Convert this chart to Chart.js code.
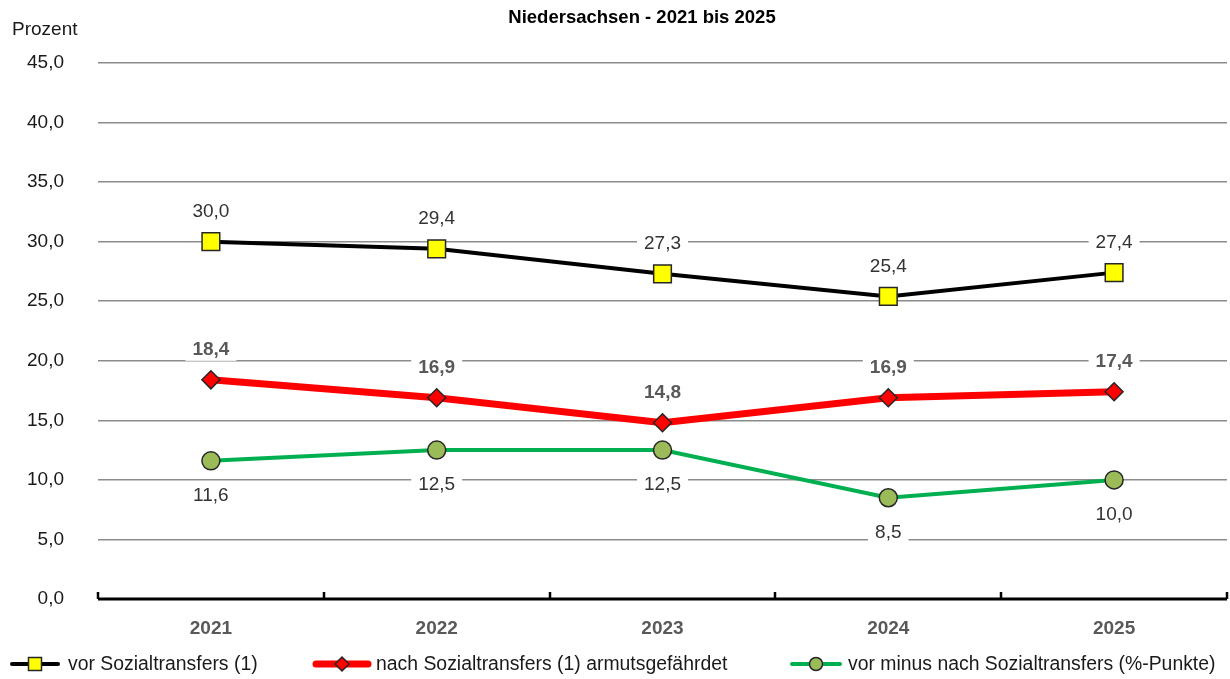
<!DOCTYPE html>
<html><head><meta charset="utf-8">
<script src="https://cdn.jsdelivr.net/npm/chart.js@4"></script>
<style>html,body{margin:0;padding:0;background:#fff}#wrap{width:1230px;height:679px;position:relative}</style>
</head><body><div id="wrap"><canvas id="c" width="1230" height="679"></canvas></div>
<script>
const categories = ['2021','2022','2023','2024','2025'];
const vorValues = [30.0, 29.4, 27.3, 25.4, 27.4];
const nachValues = [18.4, 16.9, 14.8, 16.9, 17.4];
const diffValues = [11.6, 12.5, 12.5, 8.5, 10.0];
const seriesNames = ['vor Sozialtransfers (1)', 'nach Sozialtransfers (1) armutsgefährdet', 'vor minus nach Sozialtransfers (%-Punkte)'];
const yTicks = [0,5,10,15,20,25,30,35,40,45];
const titleText = 'Niedersachsen - 2021 bis 2025';
const unitText = 'Prozent';

const FONT = '"Liberation Sans", Arial, sans-serif';
const FS = 19;
const fmt = v => v.toFixed(1).replace('.', ',');

// markers may overflow the plot area, as in the original; do not shrink the layout for them
class PlainLine extends Chart.LineController {
  getMaxOverflow() { return 0; }
}
PlainLine.id = 'plainLine';
PlainLine.defaults = Chart.LineController.defaults;
PlainLine.overrides = Chart.LineController.overrides;
Chart.register(PlainLine);

const labelCfg = [
  {dy: -31, bold: false, color: '#333333'},
  {dy: -31, bold: true, color: '#595959'},
  {dy: 34, bold: false, color: '#333333'}
];

const extras = {
  id: 'extras',
  afterDatasetsDraw(chart) {
    const ctx = chart.ctx;
    const ca = chart.chartArea;
    ctx.save();
    // x axis line + upward ticks
    ctx.strokeStyle = '#000';
    ctx.lineWidth = 3;
    ctx.beginPath();
    ctx.moveTo(ca.left, ca.bottom); ctx.lineTo(ca.right, ca.bottom);
    ctx.stroke();
    ctx.lineWidth = 2.5;
    const step = (ca.right - ca.left) / categories.length;
    for (let i = 0; i <= categories.length; i++) {
      const x = Math.round(ca.left + i * step);
      ctx.beginPath(); ctx.moveTo(x, ca.bottom); ctx.lineTo(x, ca.bottom - 7); ctx.stroke();
    }
    // data labels
    chart.data.datasets.forEach((ds, di) => {
      const meta = chart.getDatasetMeta(di);
      const cfg = labelCfg[di];
      ctx.font = (cfg.bold ? 'bold ' : '') + FS + 'px ' + FONT;
      ctx.textAlign = 'center'; ctx.textBaseline = 'middle';
      meta.data.forEach((pt, i) => {
        const txt = fmt(ds.data[i]);
        const w = ctx.measureText(txt).width + 14;
        const x = pt.x, y = pt.y + cfg.dy;
        ctx.fillStyle = '#fff';
        ctx.fillRect(x - w/2, y - 12, w, 24);
        ctx.fillStyle = cfg.color;
        ctx.fillText(txt, x, y + 1);
      });
    });
    ctx.restore();
  },
  afterDraw(chart) {
    const ctx = chart.ctx;
    ctx.save();
    // title
    ctx.fillStyle = '#000';
    ctx.font = 'bold 18.5px ' + FONT;
    ctx.textAlign = 'center'; ctx.textBaseline = 'middle';
    ctx.fillText(titleText, 642, 18);
    // unit
    ctx.font = FS + 'px ' + FONT;
    ctx.textAlign = 'left';
    ctx.fillStyle = '#1a1a1a';
    ctx.fillText(unitText, 12, 30);
    // legend
    const items = [
      {x1: 12, x2: 58, tx: 68},
      {x1: 316, x2: 368, tx: 376},
      {x1: 792, x2: 840, tx: 848}
    ];
    const ly = 664;
    chart.data.datasets.forEach((ds, di) => {
      const it = items[di];
      ctx.strokeStyle = ds.borderColor;
      ctx.lineWidth = di === 1 ? 7 : 4;
      ctx.lineCap = 'round';
      ctx.beginPath(); ctx.moveTo(it.x1, ly); ctx.lineTo(it.x2, ly); ctx.stroke();
      ctx.lineCap = 'butt';
      ctx.fillStyle = ds.pointBackgroundColor;
      ctx.strokeStyle = ds.pointBorderColor;
      ctx.lineWidth = 1.5;
      ctx.beginPath();
      const cx = (it.x1 + it.x2) / 2;
      if (di === 0) { ctx.rect(cx - 6.5, ly - 6.5, 13, 13); }
      else if (di === 1) { ctx.moveTo(cx, ly - 7); ctx.lineTo(cx + 7, ly); ctx.lineTo(cx, ly + 7); ctx.lineTo(cx - 7, ly); ctx.closePath(); }
      else { ctx.arc(cx, ly, 6.5, 0, Math.PI * 2); }
      ctx.fill(); ctx.stroke();
      ctx.fillStyle = '#1a1a1a';
      ctx.font = '19.4px ' + FONT;
      ctx.textAlign = 'left'; ctx.textBaseline = 'middle';
      ctx.fillText(seriesNames[di], it.tx, ly + 1);
    });
    ctx.restore();
  }
};

new Chart(document.getElementById('c'), {
  type: 'plainLine',
  data: {
    labels: categories,
    datasets: [
      {label: seriesNames[0], data: vorValues, borderColor: '#000000', borderWidth: 4,
       pointStyle: 'rect', pointRadius: 12.5, pointBackgroundColor: '#FFFF00', pointBorderColor: '#262626', pointBorderWidth: 1.5, tension: 0},
      {label: seriesNames[1], data: nachValues, borderColor: '#FF0000', borderWidth: 7,
       pointStyle: 'rectRot', pointRadius: 9, pointBackgroundColor: '#FF0000', pointBorderColor: '#262626', pointBorderWidth: 1.5, tension: 0},
      {label: seriesNames[2], data: diffValues, borderColor: '#00B050', borderWidth: 4,
       pointStyle: 'circle', pointRadius: 9, pointBackgroundColor: '#9BBB59', pointBorderColor: '#262626', pointBorderWidth: 1.5, tension: 0}
    ]
  },
  options: {
    responsive: false,
    animation: false,
    devicePixelRatio: 1,
    layout: {padding: {top: 63, right: 3, left: 0, bottom: 0}},
    plugins: {legend: {display: false}, title: {display: false}, tooltip: {enabled: false}},
    scales: {
      x: {
        type: 'category',
        offset: true,
        grid: {display: false, drawTicks: false},
        border: {display: false},
        ticks: {padding: 18, color: '#595959', font: {family: FONT, size: FS, weight: 'bold'}},
        afterFit(s) { s.height = 80; s.paddingLeft = 0; s.paddingRight = 0; }
      },
      y: {
        type: 'linear',
        min: 0, max: 45,
        afterBuildTicks(s) { s.ticks = yTicks.map(v => ({value: v})); },
        grid: {color: '#8c8c8c', lineWidth: 1.5, drawTicks: false},
        border: {display: false},
        ticks: {padding: 34, color: '#1a1a1a', font: {family: FONT, size: FS}, callback: v => fmt(v)},
        afterFit(s) { s.width = 98; s.paddingTop = 0; s.paddingBottom = 0; }
      }
    }
  },
  plugins: [extras]
});
</script></body></html>
